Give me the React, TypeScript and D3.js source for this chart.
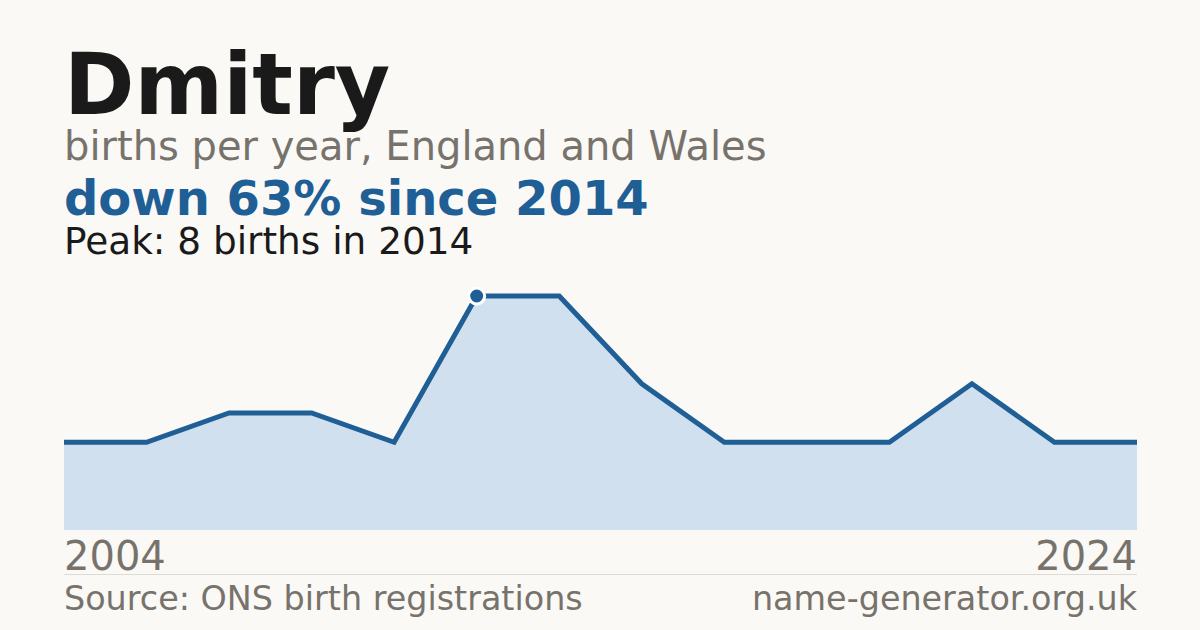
import React, { useEffect, useRef } from 'react';
import * as d3 from 'd3';

// years with registered births (ONS suppresses counts under 3)
const years = ['2004', '2006', '2008', '2010', '2012', '2014', '2015', '2016', '2017', '2018', '2019', '2021', '2023', '2024'];
const births = [3, 3, 4, 4, 3, 8, 8, 5, 3, 3, 3, 5, 3, 3];

const name = 'Dmitry';
const subtitle = 'births per year, England and Wales';
const headline = 'down 63% since 2014';
const peakNote = 'Peak: 8 births in 2014';
const source = 'Source: ONS birth registrations';
const site = 'name-generator.org.uk';

const W = 1200;
const H = 630;
const BLUE = '#1f5f95';
const GREY = '#77736c';
const FONT = '"DejaVu Sans", sans-serif';

const App: React.FC = () => {
  const svgRef = useRef<SVGSVGElement>(null);

  useEffect(() => {
    if (!svgRef.current) return;
    const svg = d3.select(svgRef.current);
    svg.selectAll('*').remove();

    svg.append('rect').attr('width', W).attr('height', H).attr('fill', '#faf9f5');

    const left = 64;
    const right = 1137;
    const x = d3.scalePoint<string>().domain(years).range([left, right]);
    const y = d3.scaleLinear().domain([0, d3.max(births) as number]).range([530, 296]);

    const data = years.map((yr, i) => ({ yr, v: births[i] }));

    // Titles
    svg.append('text')
      .attr('x', left).attr('y', 114)
      .style('font-family', FONT).style('font-size', '85px').style('font-weight', 'bold')
      .attr('fill', '#1a1a1a')
      .text(name);

    svg.append('text')
      .attr('x', left).attr('y', 160)
      .style('font-family', FONT).style('font-size', '40px')
      .attr('fill', GREY)
      .text(subtitle);

    svg.append('text')
      .attr('x', left).attr('y', 215)
      .style('font-family', FONT).style('font-size', '48px').style('font-weight', 'bold')
      .attr('fill', BLUE)
      .text(headline);

    svg.append('text')
      .attr('x', left).attr('y', 254)
      .style('font-family', FONT).style('font-size', '37.4px')
      .attr('fill', '#1a1a1a')
      .text(peakNote);

    // Area + line
    const area = d3.area<{ yr: string; v: number }>()
      .x(d => x(d.yr) as number)
      .y0(y(0))
      .y1(d => y(d.v));

    const line = d3.line<{ yr: string; v: number }>()
      .x(d => x(d.yr) as number)
      .y(d => y(d.v));

    svg.append('path')
      .datum(data)
      .attr('d', area)
      .attr('fill', '#d0e0ef');

    svg.append('path')
      .datum(data)
      .attr('d', line)
      .attr('fill', 'none')
      .attr('stroke', BLUE)
      .attr('stroke-width', 5);

    // Peak marker
    const peakIdx = births.indexOf(d3.max(births) as number);
    svg.append('circle')
      .attr('cx', x(years[peakIdx]) as number)
      .attr('cy', y(births[peakIdx]))
      .attr('r', 8)
      .attr('fill', BLUE)
      .attr('stroke', '#ffffff')
      .attr('stroke-width', 3);

    // Year labels
    svg.append('text')
      .attr('x', left).attr('y', 570)
      .style('font-family', FONT).style('font-size', '40px')
      .attr('fill', GREY)
      .text(years[0]);

    svg.append('text')
      .attr('x', right).attr('y', 570)
      .attr('text-anchor', 'end')
      .style('font-family', FONT).style('font-size', '40px')
      .attr('fill', GREY)
      .text(years[years.length - 1]);

    // Footer
    svg.append('line')
      .attr('x1', left).attr('x2', right)
      .attr('y1', 574.5).attr('y2', 574.5)
      .attr('stroke', '#dddad3')
      .attr('stroke-width', 1);

    svg.append('text')
      .attr('x', left).attr('y', 610)
      .style('font-family', FONT).style('font-size', '33.4px')
      .attr('fill', GREY)
      .text(source);

    svg.append('text')
      .attr('x', right).attr('y', 610)
      .attr('text-anchor', 'end')
      .style('font-family', FONT).style('font-size', '33.4px')
      .attr('fill', GREY)
      .text(site);
  }, []);

  return (
    <svg
      ref={svgRef}
      width={W}
      height={H}
      style={{ position: 'absolute', left: 0, top: 0, display: 'block' }}
    />
  );
};

export default App;
